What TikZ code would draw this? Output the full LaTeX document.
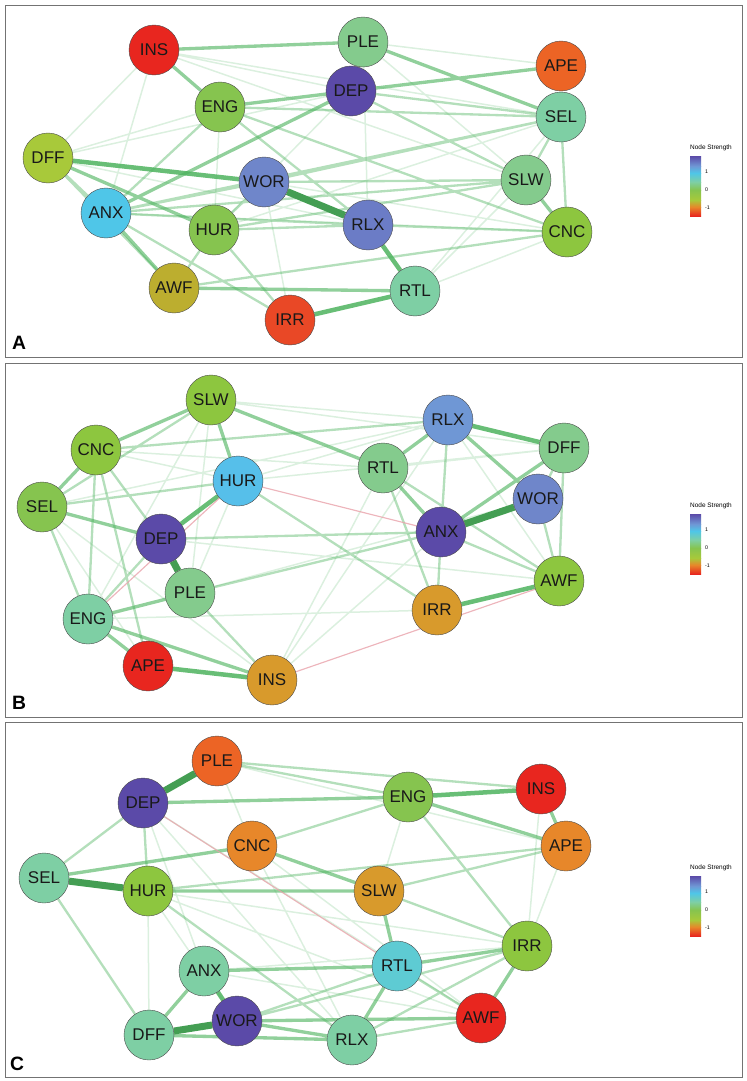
\documentclass[tikz,border=0pt]{standalone}
\usepackage{fontspec}
\setmainfont{Liberation Sans}
\usepackage{tikz}

\pgfdeclarelayer{edges}
\pgfsetlayers{edges,main}

% node strength colours
\definecolor{nsPurple}{HTML}{5B4AA8}
\definecolor{nsPeri}{HTML}{6F86CA}
\definecolor{nsPeriDk}{HTML}{6B7CC6}
\definecolor{nsBlue}{HTML}{6F97D5}
\definecolor{nsCyan}{HTML}{4FC6E8}
\definecolor{nsSky}{HTML}{56BFEA}
\definecolor{nsTeal}{HTML}{5ECBD3}
\definecolor{nsMint}{HTML}{7ECFA4}
\definecolor{nsMintGr}{HTML}{84CB8D}
\definecolor{nsGreen}{HTML}{86C44F}
\definecolor{nsLime}{HTML}{8DC63F}
\definecolor{nsYG}{HTML}{A8C93A}
\definecolor{nsOlive}{HTML}{BCAE2F}
\definecolor{nsGold}{HTML}{D89A2C}
\definecolor{nsOrange}{HTML}{E7872A}
\definecolor{nsROrange}{HTML}{EC6425}
\definecolor{nsRedOr}{HTML}{E94826}
\definecolor{nsRed}{HTML}{E8261F}
\definecolor{edgegreen}{HTML}{4DB35E}
\definecolor{edgepink}{HTML}{E9A3AB}

% colour key, #1 = name prefix, #2 = top of bar
\newcommand{\strengthkey}[2]{%
  \node[keytitle] (#1t) at (711,#2-8) {Node Strength};
  \shade[top color=nsPurple,bottom color=nsBlue] (690,#2) rectangle (701,#2+10);
  \shade[top color=nsBlue,bottom color=nsCyan] (690,#2+10) rectangle (701,#2+17);
  \shade[top color=nsCyan,bottom color=nsMint] (690,#2+17) rectangle (701,#2+26);
  \shade[top color=nsMint,bottom color=nsGreen] (690,#2+26) rectangle (701,#2+34);
  \shade[top color=nsGreen,bottom color=nsYG] (690,#2+34) rectangle (701,#2+44);
  \shade[top color=nsYG,bottom color=nsOrange] (690,#2+44) rectangle (701,#2+51);
  \shade[top color=nsOrange,bottom color=nsRed] (690,#2+51) rectangle (701,#2+60);
  \node[keytick] (#1p) at (705,#2+16) {1};
  \node[keytick] (#1z) at (705,#2+34) {0};
  \node[keytick] (#1m) at (705,#2+52) {-1};
}

\begin{document}
\begin{tikzpicture}[x=0.3mm,y=-0.3mm,
  sym/.style={circle,draw=black!70,line width=0.35pt,minimum size=15mm,inner sep=0pt,
    text=black!90,font=\fontsize{14.5}{15}\selectfont},
  e1/.style={draw=edgegreen,draw opacity=0.2,line width=0.45mm},
  e2/.style={draw=edgegreen,draw opacity=0.42,line width=0.7mm},
  e3/.style={draw=edgegreen,draw opacity=0.62,line width=1mm},
  e4/.style={draw=edgegreen,draw opacity=0.85,line width=1.35mm},
  e5/.style={draw=edgegreen!88!black,line width=2.1mm},
  neg/.style={draw=edgepink,draw opacity=0.8,line width=0.35mm},
  panel/.style={draw=black!55,line width=0.6pt},
  tag/.style={inner sep=0pt,font=\fontsize{16.5}{17}\selectfont\bfseries},
  keytitle/.style={inner sep=0pt,font=\fontsize{5.5}{6}\selectfont},
  keytick/.style={anchor=west,inner sep=0pt,font=\fontsize{4.5}{5}\selectfont}]
\useasboundingbox (0,0) rectangle (746,1081);

% panel A
\draw[panel] (5,5) rectangle (742,357);
%   nodes
    \node[sym,fill=nsRed] (A-INS) at (154,50) {INS};
    \node[sym,fill=nsMintGr] (A-PLE) at (363,42) {PLE};
    \node[sym,fill=nsROrange] (A-APE) at (561,66) {APE};
    \node[sym,fill=nsPurple] (A-DEP) at (351,91) {DEP};
    \node[sym,fill=nsGreen] (A-ENG) at (220,107) {ENG};
    \node[sym,fill=nsMint] (A-SEL) at (561,117) {SEL};
    \node[sym,fill=nsYG] (A-DFF) at (48,158) {DFF};
    \node[sym,fill=nsPeri] (A-WOR) at (264,182) {WOR};
    \node[sym,fill=nsMintGr] (A-SLW) at (526,180) {SLW};
    \node[sym,fill=nsCyan] (A-ANX) at (106,213) {ANX};
    \node[sym,fill=nsPeriDk] (A-RLX) at (368,225) {RLX};
    \node[sym,fill=nsGreen] (A-HUR) at (214,230) {HUR};
    \node[sym,fill=nsLime] (A-CNC) at (567,232) {CNC};
    \node[sym,fill=nsOlive] (A-AWF) at (174,288) {AWF};
    \node[sym,fill=nsMint] (A-RTL) at (415,291) {RTL};
    \node[sym,fill=nsRedOr] (A-IRR) at (290,320) {IRR};
    \node[tag] (tagA) at (19,343) {A};
    \strengthkey{keyA}{156}
%   edges
\begin{pgfonlayer}{edges}
    \draw[e1] (A-INS) -- (A-DFF) (A-INS) -- (A-ANX) (A-INS) -- (A-SEL) (A-INS) -- (A-SLW)
      (A-INS) -- (A-DEP) (A-PLE) -- (A-APE) (A-PLE) -- (A-SLW) (A-DFF) -- (A-ENG)
      (A-DFF) -- (A-RLX) (A-DEP) -- (A-HUR) (A-ANX) -- (A-CNC) (A-WOR) -- (A-IRR)
      (A-WOR) -- (A-CNC) (A-HUR) -- (A-SEL) (A-RTL) -- (A-CNC) (A-RTL) -- (A-SEL)
      (A-RTL) -- (A-SLW) (A-ENG) -- (A-HUR) (A-PLE) -- (A-RLX) (A-DFF) -- (A-DEP);
    \draw[e2] (A-DEP) -- (A-SEL) (A-DEP) -- (A-SLW) (A-ENG) -- (A-SEL)
      (A-ENG) -- (A-RLX) (A-ENG) -- (A-CNC) (A-ENG) -- (A-ANX) (A-DFF) -- (A-ANX)
      (A-ANX) -- (A-IRR) (A-ANX) -- (A-WOR) (A-ANX) -- (A-SLW) (A-ANX) -- (A-SEL)
      (A-ANX) -- (A-RLX) (A-WOR) -- (A-SEL) (A-WOR) -- (A-SLW) (A-WOR) -- (A-HUR)
      (A-HUR) -- (A-SLW) (A-HUR) -- (A-AWF) (A-HUR) -- (A-IRR) (A-HUR) -- (A-RLX)
      (A-AWF) -- (A-CNC) (A-RLX) -- (A-CNC) (A-SEL) -- (A-SLW) (A-SEL) -- (A-CNC)
      (A-DFF) -- (A-AWF);
    \draw[e3] (A-INS) -- (A-ENG) (A-INS) -- (A-PLE) (A-AWF) -- (A-RTL) (A-ANX) -- (A-AWF)
      (A-SLW) -- (A-CNC) (A-DEP) -- (A-APE) (A-PLE) -- (A-SEL) (A-ENG) -- (A-DEP)
      (A-DFF) -- (A-HUR) (A-DEP) -- (A-ANX);
    \draw[e4] (A-DFF) -- (A-WOR) (A-RLX) -- (A-RTL) (A-RTL) -- (A-IRR);
    \draw[e5] (A-WOR) -- (A-RLX);
\end{pgfonlayer}

% panel B
\draw[panel] (5,363) rectangle (742,717);
%   nodes
    \node[sym,fill=nsLime] (B-SLW) at (211,400) {SLW};
    \node[sym,fill=nsBlue] (B-RLX) at (448,420) {RLX};
    \node[sym,fill=nsLime] (B-CNC) at (96,450) {CNC};
    \node[sym,fill=nsMintGr] (B-DFF) at (564,448) {DFF};
    \node[sym,fill=nsMintGr] (B-RTL) at (383,468) {RTL};
    \node[sym,fill=nsSky] (B-HUR) at (238,481) {HUR};
    \node[sym,fill=nsGreen] (B-SEL) at (42,507) {SEL};
    \node[sym,fill=nsPeri] (B-WOR) at (538,499) {WOR};
    \node[sym,fill=nsPurple] (B-ANX) at (441,532) {ANX};
    \node[sym,fill=nsPurple] (B-DEP) at (161,539) {DEP};
    \node[sym,fill=nsLime] (B-AWF) at (559,581) {AWF};
    \node[sym,fill=nsMintGr] (B-PLE) at (190,593) {PLE};
    \node[sym,fill=nsGold] (B-IRR) at (437,610) {IRR};
    \node[sym,fill=nsMint] (B-ENG) at (88,619) {ENG};
    \node[sym,fill=nsRed] (B-APE) at (148,666) {APE};
    \node[sym,fill=nsGold] (B-INS) at (272,680) {INS};
    \node[tag] (tagB) at (19,703) {B};
    \strengthkey{keyB}{514}
%   edges
\begin{pgfonlayer}{edges}
    \draw[e1] (B-SLW) -- (B-RLX) (B-SLW) -- (B-DFF) (B-SEL) -- (B-APE) (B-SEL) -- (B-INS)
      (B-HUR) -- (B-RLX) (B-HUR) -- (B-DFF) (B-HUR) -- (B-PLE) (B-DEP) -- (B-AWF)
      (B-PLE) -- (B-WOR) (B-INS) -- (B-ANX) (B-INS) -- (B-RTL) (B-INS) -- (B-RLX)
      (B-RLX) -- (B-AWF) (B-RTL) -- (B-DFF) (B-CNC) -- (B-RTL) (B-ENG) -- (B-IRR)
      (B-CNC) -- (B-HUR) (B-SEL) -- (B-RLX) (B-SLW) -- (B-ENG) (B-SLW) -- (B-PLE);
    \draw[e2] (B-CNC) -- (B-DEP) (B-CNC) -- (B-ENG) (B-CNC) -- (B-APE) (B-SEL) -- (B-HUR)
      (B-HUR) -- (B-IRR) (B-DEP) -- (B-ANX) (B-PLE) -- (B-INS) (B-RTL) -- (B-IRR)
      (B-RLX) -- (B-ANX) (B-WOR) -- (B-AWF) (B-ANX) -- (B-AWF) (B-ANX) -- (B-IRR)
      (B-DFF) -- (B-AWF) (B-DFF) -- (B-WOR) (B-RTL) -- (B-AWF) (B-CNC) -- (B-RLX)
      (B-SEL) -- (B-ENG) (B-SLW) -- (B-SEL) (B-DEP) -- (B-ENG) (B-PLE) -- (B-ANX);
    \draw[e3] (B-SLW) -- (B-CNC) (B-SLW) -- (B-HUR) (B-SLW) -- (B-RTL) (B-CNC) -- (B-SEL)
      (B-SEL) -- (B-DEP) (B-PLE) -- (B-ENG) (B-ENG) -- (B-APE) (B-ENG) -- (B-INS)
      (B-RLX) -- (B-RTL) (B-RLX) -- (B-WOR) (B-RTL) -- (B-ANX) (B-DFF) -- (B-ANX);
    \draw[e4] (B-HUR) -- (B-DEP) (B-APE) -- (B-INS) (B-RLX) -- (B-DFF) (B-IRR) -- (B-AWF);
    \draw[e5] (B-DEP) -- (B-PLE) (B-ANX) -- (B-WOR);
    \draw[neg] (B-HUR) -- (B-ANX) (B-INS) -- (B-AWF) (B-HUR) -- (B-ENG);
\end{pgfonlayer}

% panel C
\draw[panel] (5,722) rectangle (742,1077);
%   nodes
    \node[sym,fill=nsROrange] (C-PLE) at (217,761) {PLE};
    \node[sym,fill=nsRed] (C-INS) at (541,789) {INS};
    \node[sym,fill=nsGreen] (C-ENG) at (408,797) {ENG};
    \node[sym,fill=nsPurple] (C-DEP) at (143,803) {DEP};
    \node[sym,fill=nsOrange] (C-CNC) at (252,846) {CNC};
    \node[sym,fill=nsOrange] (C-APE) at (566,846) {APE};
    \node[sym,fill=nsMint] (C-SEL) at (44,878) {SEL};
    \node[sym,fill=nsLime] (C-HUR) at (148,891) {HUR};
    \node[sym,fill=nsGold] (C-SLW) at (379,891) {SLW};
    \node[sym,fill=nsLime] (C-IRR) at (527,946) {IRR};
    \node[sym,fill=nsTeal] (C-RTL) at (397,966) {RTL};
    \node[sym,fill=nsMint] (C-ANX) at (204,971) {ANX};
    \node[sym,fill=nsRed] (C-AWF) at (481,1018) {AWF};
    \node[sym,fill=nsPurple] (C-WOR) at (237,1021) {WOR};
    \node[sym,fill=nsMint] (C-DFF) at (149,1035) {DFF};
    \node[sym,fill=nsMint] (C-RLX) at (352,1040) {RLX};
    \node[tag] (tagC) at (17,1064) {C};
    \strengthkey{keyC}{876}
%   edges
\begin{pgfonlayer}{edges}
    \draw[e1] (C-PLE) -- (C-CNC) (C-PLE) -- (C-APE) (C-DEP) -- (C-ANX) (C-DEP) -- (C-RLX)
      (C-HUR) -- (C-AWF) (C-HUR) -- (C-IRR) (C-HUR) -- (C-DFF) (C-ENG) -- (C-SLW)
      (C-ANX) -- (C-AWF) (C-ANX) -- (C-IRR) (C-CNC) -- (C-RLX) (C-APE) -- (C-IRR)
      (C-INS) -- (C-IRR) (C-CNC) -- (C-AWF) (C-HUR) -- (C-WOR) (C-DEP) -- (C-AWF);
    \draw[e2] (C-DEP) -- (C-SEL) (C-DEP) -- (C-HUR) (C-ENG) -- (C-CNC) (C-ENG) -- (C-IRR)
      (C-PLE) -- (C-ENG) (C-SLW) -- (C-APE) (C-SLW) -- (C-IRR) (C-RTL) -- (C-AWF)
      (C-RTL) -- (C-WOR) (C-IRR) -- (C-WOR) (C-IRR) -- (C-RLX) (C-RLX) -- (C-AWF)
      (C-SEL) -- (C-DFF) (C-PLE) -- (C-INS) (C-HUR) -- (C-APE) (C-HUR) -- (C-RLX);
    \draw[e3] (C-INS) -- (C-APE) (C-ENG) -- (C-APE) (C-CNC) -- (C-SEL) (C-CNC) -- (C-SLW)
      (C-HUR) -- (C-SLW) (C-SLW) -- (C-RTL) (C-RTL) -- (C-IRR) (C-RTL) -- (C-ANX)
      (C-RTL) -- (C-RLX) (C-IRR) -- (C-AWF) (C-ANX) -- (C-DFF) (C-DFF) -- (C-RLX)
      (C-WOR) -- (C-RLX) (C-WOR) -- (C-AWF) (C-DEP) -- (C-ENG);
    \draw[e4] (C-ENG) -- (C-INS) (C-ANX) -- (C-WOR);
    \draw[e5] (C-PLE) -- (C-DEP) (C-SEL) -- (C-HUR) (C-DFF) -- (C-WOR);
    \draw[neg] (C-DEP) -- (C-RTL);
\end{pgfonlayer}
\end{tikzpicture}
\end{document}
